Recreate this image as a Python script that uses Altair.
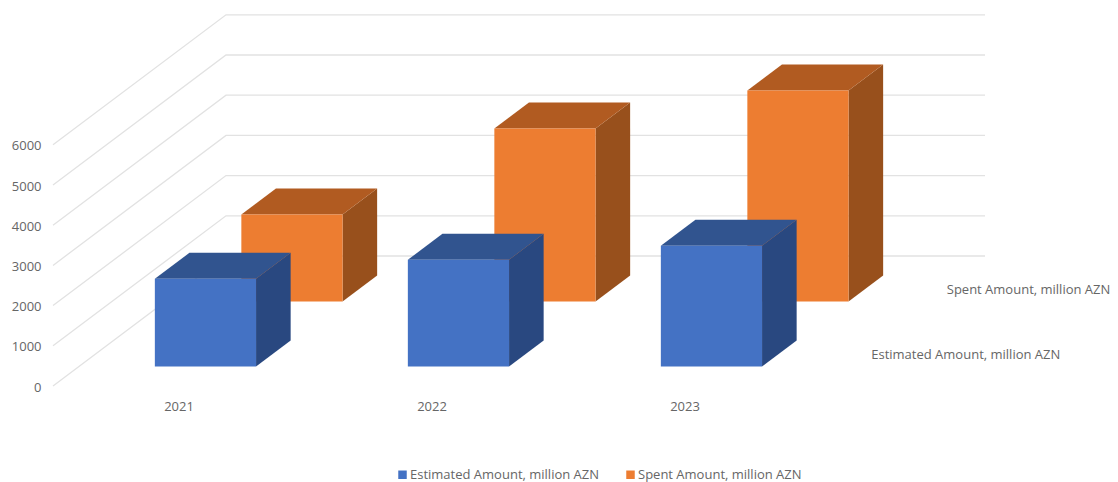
import altair as alt
import pandas as pd

years = ["2021", "2022", "2023"]
series_names = ["Estimated Amount, million AZN", "Spent Amount, million AZN"]
estimated = [2182, 2654, 3002]
spent = [2164, 4303, 5249]
tick_values = [0, 1000, 2000, 3000, 4000, 5000, 6000]

FONT = "Open Sans"
GREY = "#666666"
FS = 13
DEPTH_X = 173 / 253      # category units per unit of depth
DEPTH_Y = 130 / 0.0402   # value units per unit of depth
HALF = 0.2               # half bar width in category units
W, H = 932, 378
x_scale = alt.Scale(domain=[0, 3 + DEPTH_X], range=[0, W], nice=False, zero=False)
y_scale = alt.Scale(domain=[0, H / 0.0402], range=[H, 0], nice=False, zero=False)

depths = {series_names[0]: (0.15, 0.35), series_names[1]: (0.65, 0.85)}


def faces(name, values):
    d1, d2 = depths[name]
    front, side, top = [], [], []
    for i, v in enumerate(values):
        base1, base2 = DEPTH_Y * d1, DEPTH_Y * d2
        left = i + 0.5 - HALF + DEPTH_X * d1
        right = i + 0.5 + HALF + DEPTH_X * d1
        front.append(dict(series=name, x=left, x2=right, y=base1, y2=base1 + v))
        side.append(dict(bar=i, x=right, y=base1, y2=base1 + v))
        side.append(dict(bar=i, x=right + DEPTH_X * (d2 - d1), y=base2, y2=base2 + v))
        top.append(dict(bar=i, y=base1 + v, x=left, x2=right))
        top.append(dict(bar=i, y=base2 + v, x=left + DEPTH_X * (d2 - d1), x2=right + DEPTH_X * (d2 - d1)))
    return pd.DataFrame(front), pd.DataFrame(side), pd.DataFrame(top)


grid_rows = []
for t in tick_values:
    grid_rows += [
        dict(t=t, x=0, y=t),
        dict(t=t, x=DEPTH_X, y=t + DEPTH_Y),
        dict(t=t, x=3 + DEPTH_X, y=t + DEPTH_Y),
    ]

X = alt.X(
    "x:Q",
    scale=x_scale,
    title=None,
    axis=alt.Axis(
        values=[0.5, 1.5, 2.5],
        labelExpr=f"datum.value < 1 ? '{years[0]}' : datum.value < 2 ? '{years[1]}' : '{years[2]}'",
        domain=False,
        ticks=False,
        grid=False,
        labelPadding=14,
        labelOffset=-1,
        labelFont=FONT,
        labelFontSize=FS,
        labelColor=GREY,
    ),
)
Y = alt.Y(
    "y:Q",
    scale=y_scale,
    title=None,
    stack=None,
    axis=alt.Axis(
        values=tick_values,
        format="d",
        domain=False,
        ticks=False,
        grid=False,
        labelPadding=12,
        labelOffset=1,
        labelFont=FONT,
        labelFontSize=FS,
        labelColor=GREY,
    ),
)

grid = (
    alt.Chart(pd.DataFrame(grid_rows))
    .mark_line(color="#E2E2E2", strokeWidth=1.3)
    .encode(x=X, y=Y, detail="t:N", order="x:Q")
)

color = alt.Color(
    "series:N",
    scale=alt.Scale(domain=series_names, range=["#4472C4", "#ED7D31"]),
    legend=alt.Legend(
        title=None,
        orient="none",
        legendX=343,
        legendY=460,
        direction="horizontal",
        columns=2,
        columnPadding=24,
        symbolType="square",
        symbolSize=72,
        symbolStrokeWidth=0,
        labelFont=FONT,
        labelFontSize=FS,
        labelColor=GREY,
        labelLimit=300,
        labelOffset=1,
    ),
)


def bars(name, values, side_color, top_color):
    front, side, top = faces(name, values)
    s = (
        alt.Chart(side)
        .mark_area(color=side_color, orient="vertical")
        .encode(x=alt.X("x:Q", scale=x_scale), y=alt.Y("y:Q", scale=y_scale, stack=None), y2="y2:Q", detail="bar:N")
    )
    t = (
        alt.Chart(top)
        .mark_area(color=top_color, orient="horizontal")
        .encode(y=alt.Y("y:Q", scale=y_scale, stack=None), x=alt.X("x:Q", scale=x_scale), x2="x2:Q", detail="bar:N")
    )
    f = (
        alt.Chart(front)
        .mark_rect()
        .encode(x=alt.X("x:Q", scale=x_scale), x2="x2:Q", y=alt.Y("y:Q", scale=y_scale), y2="y2:Q", color=color)
    )
    return [s, t, f]


labels = pd.DataFrame(
    [
        dict(label=series_names[0], x=3 + DEPTH_X * 0.25, y=DEPTH_Y * 0.25, off=16),
        dict(label=series_names[1], x=3 + DEPTH_X * 0.75, y=DEPTH_Y * 0.75, off=5),
    ]
)
depth_labels = [
    alt.Chart(labels[labels.off == off])
    .mark_text(align="left", baseline="middle", dx=off, dy=1, font=FONT, fontSize=FS, color=GREY)
    .encode(x=alt.X("x:Q", scale=x_scale), y=alt.Y("y:Q", scale=y_scale), text="label:N")
    for off in (16, 5)
]

chart = (
    alt.layer(
        grid,
        *bars(series_names[1], spent, "#98501C", "#B15B21"),
        *bars(series_names[0], estimated, "#294880", "#31548F"),
        *depth_labels,
    )
    .properties(
        width=W,
        height=H,
        autosize=alt.AutoSizeParams(type="none", contains="content"),
        padding={"left": 45, "top": 0, "right": 125, "bottom": 96},
        background="white",
    )
    .configure_view(stroke=None)
)

chart.save("out.html", embed_options={"renderer": "svg", "actions": False})
